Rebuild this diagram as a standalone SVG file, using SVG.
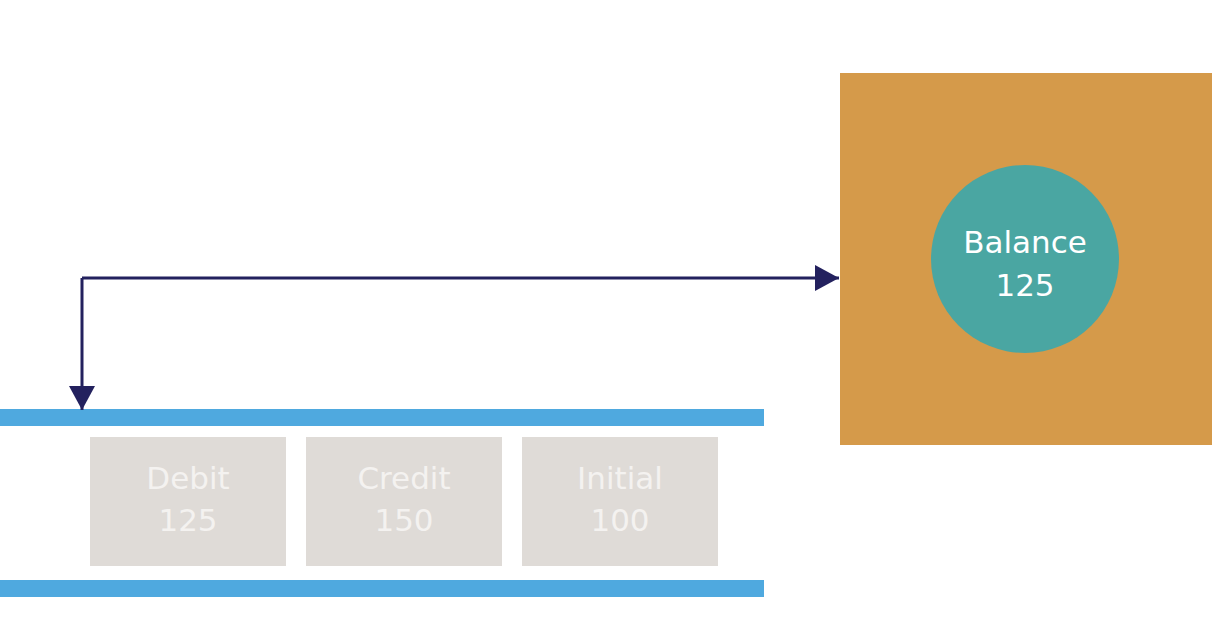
<svg xmlns="http://www.w3.org/2000/svg" width="1232" height="628" viewBox="0 0 1232 628">
<style>
.t{font-family:"DejaVu Sans","Liberation Sans",sans-serif;font-size:31px;text-anchor:middle}
.box{fill:#dfdbd7}
.bt{fill:#f4f2f0}
.bar{fill:#4fa9df}
.ln{stroke:#23215e;stroke-width:3;fill:none}
</style>
<defs>
<marker id="ahb" markerWidth="24" markerHeight="26" refX="24" refY="13" orient="auto" markerUnits="userSpaceOnUse" viewBox="0 0 24 26">
<path d="M0,0 L24,13 L0,26 Z" fill="#23215e"/>
</marker>
</defs>
<rect width="1232" height="628" fill="#fff"/>
<g id="balance">
<rect x="840" y="73" width="372" height="372" fill="#d59a4a"/>
<circle cx="1025" cy="259" r="94" fill="#4aa6a2"/>
<text class="t" x="1025" y="253" fill="#fff">Balance</text>
<text class="t" x="1025" y="296" fill="#fff">125</text>
</g>
<g id="stream">
<rect class="bar" x="0" y="409" width="764" height="17"/>
<rect class="bar" x="0" y="580" width="764" height="17"/>
</g>
<g id="debit">
<rect class="box" x="90" y="437" width="196" height="129"/>
<text class="t bt" x="188" y="489">Debit</text>
<text class="t bt" x="188" y="531">125</text>
</g>
<g id="credit">
<rect class="box" x="306" y="437" width="196" height="129"/>
<text class="t bt" x="404" y="489">Credit</text>
<text class="t bt" x="404" y="531">150</text>
</g>
<g id="initial">
<rect class="box" x="522" y="437" width="196" height="129"/>
<text class="t bt" x="620" y="489">Initial</text>
<text class="t bt" x="620" y="531">100</text>
</g>
<g id="connectors">
<path class="ln" d="M82,278 L839,278" marker-end="url(#ahb)"/>
<path class="ln" d="M82,278 L82,410" marker-end="url(#ahb)"/>
</g>
</svg>
